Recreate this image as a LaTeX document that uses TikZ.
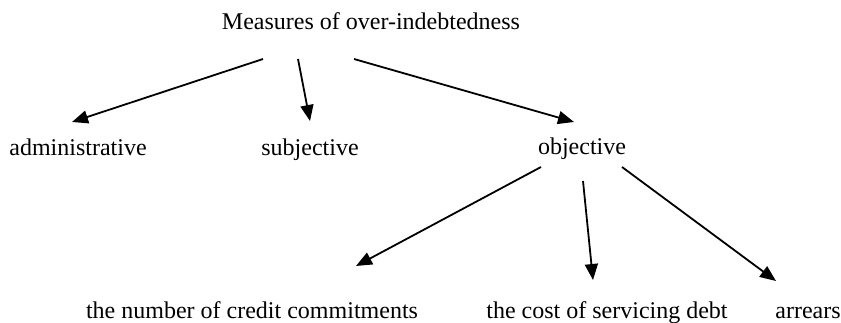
\documentclass[tikz,border=0pt]{standalone}
\usepackage{fontspec}
\setmainfont{Liberation Serif}
\usetikzlibrary{arrows.meta,calc}

\tikzset{
    lbl/.style={inner sep=0pt, anchor=base, font=\fontsize{12}{14}\selectfont},
}

\begin{document}
\begin{tikzpicture}[x=0.5pt, y=-0.5pt, >={Triangle[length=8pt,width=6.5pt]}, line width=0.9pt]
            \useasboundingbox (0,0) rectangle (841,322);

            % top level
            \node[lbl] (title) at (371,29) {Measures of over-indebtedness};

            \node[lbl] (admin) at (78,155) {administrative};
            \node[lbl] (subj) at (310,155) {subjective};
            \node[lbl] (obj) at (582,154) {objective};

            \draw[->] ($(title.base)+(-108,30)$) -- ($(admin.base)+(-6,-33)$);
            \draw[->] ($(title.base)+(-73,30)$) -- ($(subj.base)+(0,-34)$);
            \draw[->] ($(title.base)+(-17,30)$) -- ($(obj.base)+(-8,-32)$);

            % below objective
            \node[lbl] (number) at (252,318) {the number of credit commitments};
            \node[lbl] (cost) at (607,318) {the cost of servicing debt};
            \node[lbl] (arrears) at (808,318) {arrears};

            \draw[->] ($(obj.base)+(-41,13)$) -- ($(number.base)+(104,-52)$);
            \draw[->] ($(obj.base)+(1,27)$) -- ($(cost.base)+(-14,-38)$);
            \draw[->] ($(obj.base)+(40,13)$) -- ($(arrears.base)+(-32,-37)$);
        \end{tikzpicture}
\end{document}
